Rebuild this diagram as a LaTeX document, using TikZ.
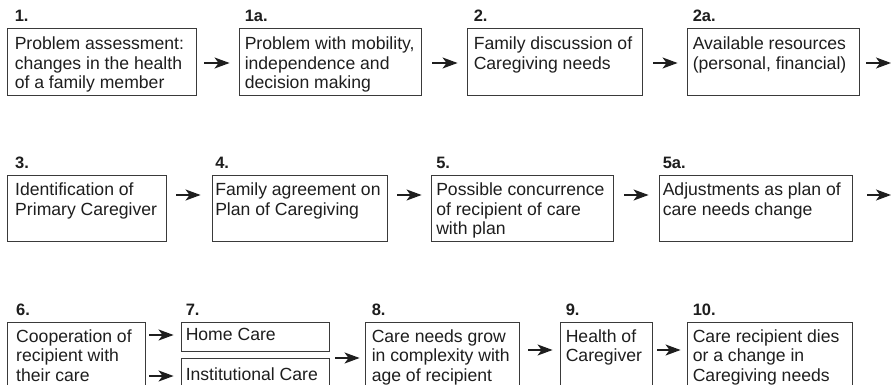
\documentclass[tikz,border=0pt]{standalone}
\usepackage{fontspec}
\setmainfont{Liberation Sans}
\usetikzlibrary{arrows.meta}
\definecolor{ink}{HTML}{1E1E1E}
\definecolor{edgecol}{HTML}{3A3A3A}
% #1 name, #2 left, #3 top, #4 right, #5 bottom, #6 text inset, #7 baseline drop, #8 label, #9 text
\newcommand\stagebox[9]{%
  \node[boxsty, minimum width={(#4-#2)*1pt}, minimum height={(#5-#3)*1pt}] (#1) at ({(#2+#4)/2},{(#3+#5)/2}) {};
  \node[numsty] (#1n) at ([xshift=#6pt,yshift=6.5pt]#1.north west) {#8};
  \node[txtsty] (#1t) at ([xshift=#6pt,yshift={-(#7-12.7)*1pt}]#1.north west) {#9};
}
\begin{document}
\begin{tikzpicture}[x=1pt,y=-1pt,
  boxsty/.style={draw=edgecol, line width=0.9pt, inner sep=0pt, rectangle},
  numsty/.style={anchor=base west, inner sep=0pt, font=\fontsize{16.5}{19}\selectfont\bfseries, text=ink},
  txtsty/.style={anchor=north west, inner sep=0pt, align=left, font=\fontsize{17.6}{19.5}\selectfont, text=ink},
  arr/.style={draw=ink, line width=1.4pt, -{Stealth[length=15pt, width=11pt, inset=4pt]}}]
\useasboundingbox (0,0) rectangle (891,385);
\clip (0,0) rectangle (891,385);
\fill[white] (0,0) rectangle (891,385);

% row 1
\stagebox{b1}{7}{28}{196}{95}{8}{22}{1.}{Problem assessment:\\changes in the health\\of a family member}
\stagebox{b1a}{239}{28}{421}{95}{6}{22}{1a.}{Problem with mobility,\\independence and\\decision making}
\stagebox{b2}{467}{28}{642}{95}{7}{22}{2.}{Family discussion of\\Caregiving needs}
\stagebox{b2a}{687}{28}{859}{95}{6}{22}{2a.}{Available resources\\(personal, financial)}
\coordinate (e1) at (891,63);

% row 2
\stagebox{b3}{7}{175}{166}{241}{8.5}{21}{3.}{Identification of\\Primary Caregiver}
\stagebox{b4}{212}{175}{387}{241}{3.5}{21}{4.}{Family agreement on\\Plan of Caregiving}
\stagebox{b5}{431}{175}{613}{241}{5.5}{21}{5.}{Possible concurrence\\of recipient of care\\with plan}
\stagebox{b5a}{659}{175}{852}{241}{4}{21}{5a.}{Adjustments as plan of\\care needs change}
\coordinate (e2) at (891,195);

% row 3
\stagebox{b6}{7}{322}{145}{392}{9.5}{20.5}{6.}{Cooperation of\\recipient with\\their care}
\node[boxsty, minimum width=148pt, minimum height=29pt] (b7a) at (255,336.5) {};
\node[numsty] (b7an) at ([xshift=5pt,yshift=6.5pt]b7a.north west) {7.};
\node[txtsty] (b7at) at ([xshift=5pt,yshift=-6.3pt]b7a.north west) {Home Care};
\node[boxsty, minimum width=148pt, minimum height=34pt] (b7b) at (255,375) {};
\node[txtsty] (b7bt) at ([xshift=5pt,yshift=-9.8pt]b7b.north west) {Institutional Care};
\stagebox{b8}{365}{322}{519}{392}{7}{20.5}{8.}{Care needs grow\\in complexity with\\age of recipient}
\stagebox{b9}{560}{322}{652}{392}{6}{20.5}{9.}{Health of\\Caregiver}
\stagebox{b10}{687}{322}{852}{392}{6}{20.5}{10.}{Care recipient dies\\or a change in\\Caregiving needs}

% connectors
\draw[arr, shorten <=8pt, shorten >=9pt] (b1.east |- 0,63) -- (b1a.west |- 0,63);
\draw[arr, shorten <=11pt, shorten >=9pt] (b1a.east |- 0,63) -- (b2.west |- 0,63);
\draw[arr, shorten <=11pt, shorten >=9pt] (b2.east |- 0,63) -- (b2a.west |- 0,63);
\draw[arr, shorten <=7pt] (b2a.east |- e1) -- (e1);

\draw[arr, shorten <=10pt, shorten >=11pt] (b3.east |- 0,195) -- (b4.west |- 0,195);
\draw[arr, shorten <=10pt, shorten >=9pt] (b4.east |- 0,195) -- (b5.west |- 0,195);
\draw[arr, shorten <=11pt, shorten >=10pt] (b5.east |- 0,195) -- (b5a.west |- 0,195);
\draw[arr, shorten <=15pt] (b5a.east |- e2) -- (e2);

\draw[arr, shorten <=4pt, shorten >=7pt] (b6.east |- 0,335) -- (b7a.west |- 0,335);
\draw[arr, shorten <=4pt, shorten >=7pt] (b6.east |- 0,376) -- (b7b.west |- 0,376);
\draw[arr, shorten <=6pt, shorten >=5pt] (b7a.east |- 0,358) -- (b8.west |- 0,358);
\draw[arr, shorten <=9pt, shorten >=7pt] (b8.east |- 0,350) -- (b9.west |- 0,350);
\draw[arr, shorten <=5pt, shorten >=6pt] (b9.east |- 0,350) -- (b10.west |- 0,350);
\end{tikzpicture}
\end{document}
